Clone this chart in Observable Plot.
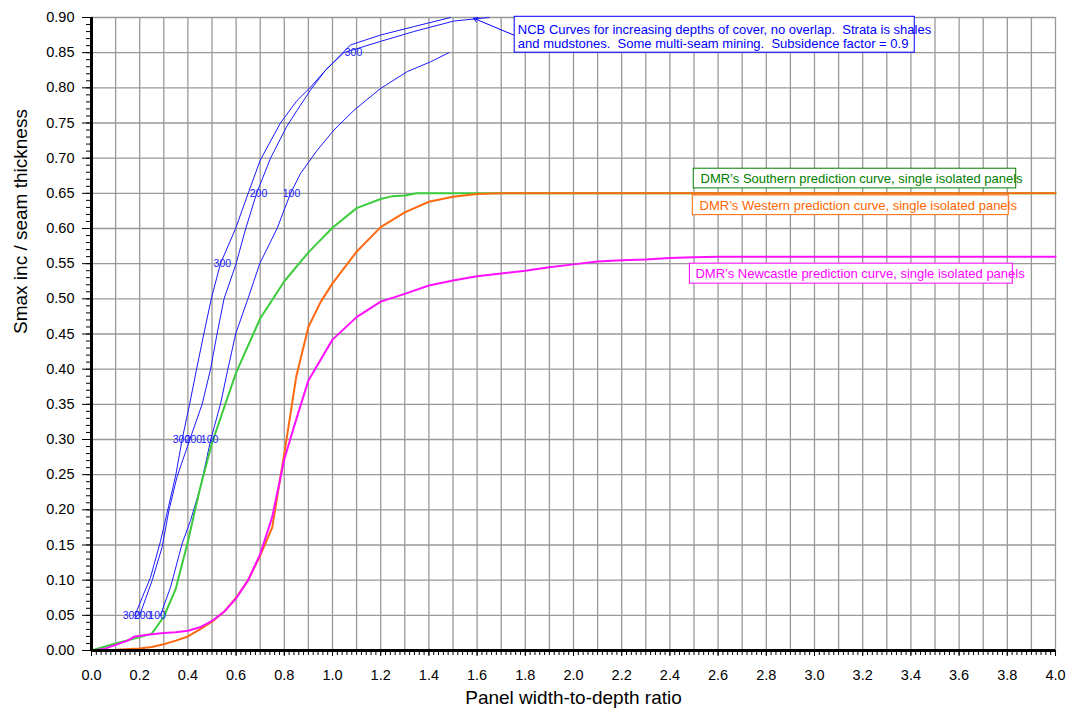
<!DOCTYPE html>
<html><head><meta charset="utf-8">
<script src="https://cdn.jsdelivr.net/npm/d3@7"></script>
<script src="https://cdn.jsdelivr.net/npm/@observablehq/plot@0.6"></script>
<style>
body{margin:0;background:#fff;}
svg{font-family:"Liberation Sans",Arial,sans-serif;}
</style>
</head><body><div id="chart"></div>
<script>
// NCB curves (depth of cover 300, 200, 100) — [ratio, Smax/seam]
const ncb300 = [[0.18,0.05],[0.245,0.104],[0.286,0.155],[0.32,0.205],[0.35,0.25],[0.376,0.30],[0.407,0.35],[0.436,0.40],[0.466,0.45],[0.497,0.50],[0.535,0.55],[0.598,0.60],[0.65,0.65],[0.70,0.697],[0.784,0.75],[0.853,0.782],[0.909,0.801],[0.971,0.825],[1.047,0.85],[1.199,0.866],[1.337,0.88],[1.504,0.895],[1.65,0.90]];
const ncb200 = [[0.20,0.05],[0.252,0.10],[0.293,0.147],[0.321,0.199],[0.355,0.247],[0.408,0.30],[0.459,0.35],[0.494,0.40],[0.521,0.45],[0.55,0.50],[0.60,0.55],[0.64,0.60],[0.685,0.65],[0.743,0.70],[0.81,0.745],[0.853,0.768],[0.909,0.797],[0.971,0.825],[1.075,0.861],[1.199,0.875],[1.337,0.887],[1.49,0.90]];
const ncb100 = [[0.286,0.05],[0.328,0.09],[0.376,0.152],[0.411,0.185],[0.452,0.232],[0.495,0.30],[0.535,0.35],[0.566,0.40],[0.598,0.45],[0.649,0.50],[0.698,0.55],[0.77,0.60],[0.826,0.65],[0.867,0.678],[0.936,0.711],[1.006,0.74],[1.089,0.768],[1.199,0.799],[1.31,0.823],[1.407,0.837],[1.483,0.85]];
// DMR prediction curves
const southern = [[0,0],[0.1,0.01],[0.2,0.019],[0.25,0.024],[0.3,0.048],[0.35,0.088],[0.4,0.155],[0.45,0.23],[0.5,0.295],[0.6,0.395],[0.7,0.472],[0.8,0.525],[0.9,0.566],[1.0,0.601],[1.1,0.629],[1.2,0.642],[1.25,0.646],[1.3,0.647],[1.35,0.65],[4.0,0.65]];
const western = [[0,0],[0.1,0.001],[0.2,0.003],[0.25,0.005],[0.3,0.009],[0.35,0.014],[0.4,0.02],[0.45,0.03],[0.5,0.041],[0.55,0.055],[0.6,0.075],[0.65,0.10],[0.7,0.135],[0.75,0.175],[0.8,0.28],[0.85,0.39],[0.9,0.46],[0.95,0.495],[1.0,0.522],[1.1,0.567],[1.2,0.602],[1.3,0.623],[1.4,0.638],[1.5,0.645],[1.6,0.649],[1.7,0.65],[4.0,0.65]];
const newcastle = [[0,0],[0.05,0.002],[0.1,0.008],[0.15,0.014],[0.18,0.02],[0.25,0.023],[0.3,0.025],[0.35,0.026],[0.4,0.028],[0.45,0.033],[0.5,0.042],[0.55,0.055],[0.6,0.074],[0.65,0.10],[0.7,0.137],[0.75,0.19],[0.8,0.272],[0.84,0.318],[0.9,0.384],[1.0,0.442],[1.1,0.474],[1.2,0.496],[1.3,0.507],[1.4,0.519],[1.5,0.526],[1.6,0.532],[1.7,0.536],[1.8,0.54],[1.9,0.545],[2.0,0.549],[2.1,0.553],[2.2,0.555],[2.3,0.556],[2.4,0.558],[2.5,0.559],[2.6,0.56],[4.0,0.56]];

// depth labels placed on the NCB curves
const depthLabels = [
  {x:0.166,y:0.05,t:"300"},{x:0.212,y:0.05,t:"200"},{x:0.272,y:0.05,t:"100"},
  {x:0.373,y:0.30,t:"300"},{x:0.423,y:0.30,t:"200"},{x:0.49,y:0.30,t:"100"},
  {x:0.543,y:0.55,t:"300"},{x:0.693,y:0.65,t:"200"},{x:0.83,y:0.65,t:"100"},
  {x:1.087,y:0.85,t:"300"}
];

// annotation boxes
const ncbNote = {x1:1.756,x2:3.416,y1:0.85,y2:0.901,tx:1.769,ty:0.873,color:"#0000ff",
  text:"NCB Curves for increasing depths of cover, no overlap.  Strata is shales\nand mudstones.  Some multi-seam mining.  Subsidence factor = 0.9"};
const southernNote = {x1:2.499,x2:3.837,y1:0.657,y2:0.685,tx:2.527,ty:0.671,color:"#008000",text:"DMR\u2019s Southern prediction curve, single isolated panels"};
const westernNote = {x1:2.495,x2:3.806,y1:0.619,y2:0.647,tx:2.523,ty:0.633,color:"#ff6600",text:"DMR\u2019s Western prediction curve, single isolated panels"};
const newcastleNote = {x1:2.483,x2:3.823,y1:0.5216,y2:0.55,tx:2.506,ty:0.536,color:"#ff00ff",text:"DMR\u2019s Newcastle prediction curve, single isolated panels"};
const callout = [{x1:1.752,y1:0.875,x2:1.585,y2:0.899}];

const xGrid = d3.range(0, 41).map(i => i / 10);
const xLabels = d3.range(0, 21).map(i => i / 5);
const xMinor = d3.range(0, 201).map(i => i / 50);
const yMajor = d3.range(0, 19).map(i => i / 20);
const yMinor = d3.range(0, 91).map(i => i / 100);
const xTitle = "Panel width-to-depth ratio";
const yTitle = "Smax inc / seam thickness";

const X = d => d[0], Y = d => d[1];
const font = "Liberation Sans, Arial, sans-serif";

function note(n, size) {
  return [
    Plot.rect([n], {x1:"x1", x2:"x2", y1:"y1", y2:"y2", fill:"white", stroke:n.color, strokeWidth:1}),
    Plot.text([n], {x:"tx", y:"ty", text:"text", fill:n.color, textAnchor:"start", lineAnchor:"middle", fontSize:size, lineHeight:1.08})
  ];
}

const chart = Plot.plot({
  width: 1069, height: 708,
  marginLeft: 91, marginRight: 14, marginTop: 17, marginBottom: 58,
  x: {domain: [0, 4]},
  y: {domain: [0, 0.9]},
  style: {fontFamily: font, background: "white", overflow: "visible"},
  marks: [
    Plot.gridX(xGrid, {stroke: "#999", strokeOpacity: 1, strokeWidth: 1.3}),
    Plot.gridY(yMajor, {stroke: "#999", strokeOpacity: 1, strokeWidth: 1.3}),
    Plot.line(ncb300, {x: X, y: Y, stroke: "#1a1aff", strokeWidth: 1}),
    Plot.line(ncb200, {x: X, y: Y, stroke: "#1a1aff", strokeWidth: 1}),
    Plot.line(ncb100, {x: X, y: Y, stroke: "#1a1aff", strokeWidth: 1}),
    Plot.line(southern, {x: X, y: Y, stroke: "#3ccc3c", strokeWidth: 2}),
    Plot.line(western, {x: X, y: Y, stroke: "#ff6a10", strokeWidth: 2}),
    Plot.line(newcastle, {x: X, y: Y, stroke: "#ff10ff", strokeWidth: 2}),
    Plot.text(depthLabels, {x: "x", y: "y", text: "t", fill: "#2020ff", fontSize: 10.5}),
    Plot.arrow(callout, {x1: "x1", y1: "y1", x2: "x2", y2: "y2", stroke: "#0000ff", strokeWidth: 1, headLength: 7}),
    ...note(ncbNote, 13),
    ...note(southernNote, 13),
    ...note(westernNote, 13),
    ...note(newcastleNote, 13),
    Plot.axisX(xMinor, {tickSize: 5, text: null, stroke: "black", strokeWidth: 1}),
    Plot.axisX(xLabels, {tickSize: 6, tickPadding: 13, fontSize: 14.5, tickFormat: d3.format(".1f"), label: null, fill: "black"}),
    Plot.axisY(yMinor, {tickSize: 5, text: null, stroke: "black", strokeWidth: 1}),
    Plot.axisY(yMajor, {tickSize: 9, tickPadding: 8, fontSize: 14.5, tickFormat: d3.format(".2f"), label: null, fill: "black"}),
    Plot.ruleX([0], {stroke: "black", strokeWidth: 3}),
    Plot.ruleY([0], {stroke: "black", strokeWidth: 3}),
    Plot.text([xTitle], {frameAnchor: "bottom", dy: 47, fontSize: 19, fill: "black", lineAnchor: "middle"}),
    Plot.text([yTitle], {frameAnchor: "left", dx: -71, rotate: -90, fontSize: 19, fill: "black", lineAnchor: "middle"})
  ]
});
document.getElementById("chart").appendChild(chart);
</script>
</body></html>
